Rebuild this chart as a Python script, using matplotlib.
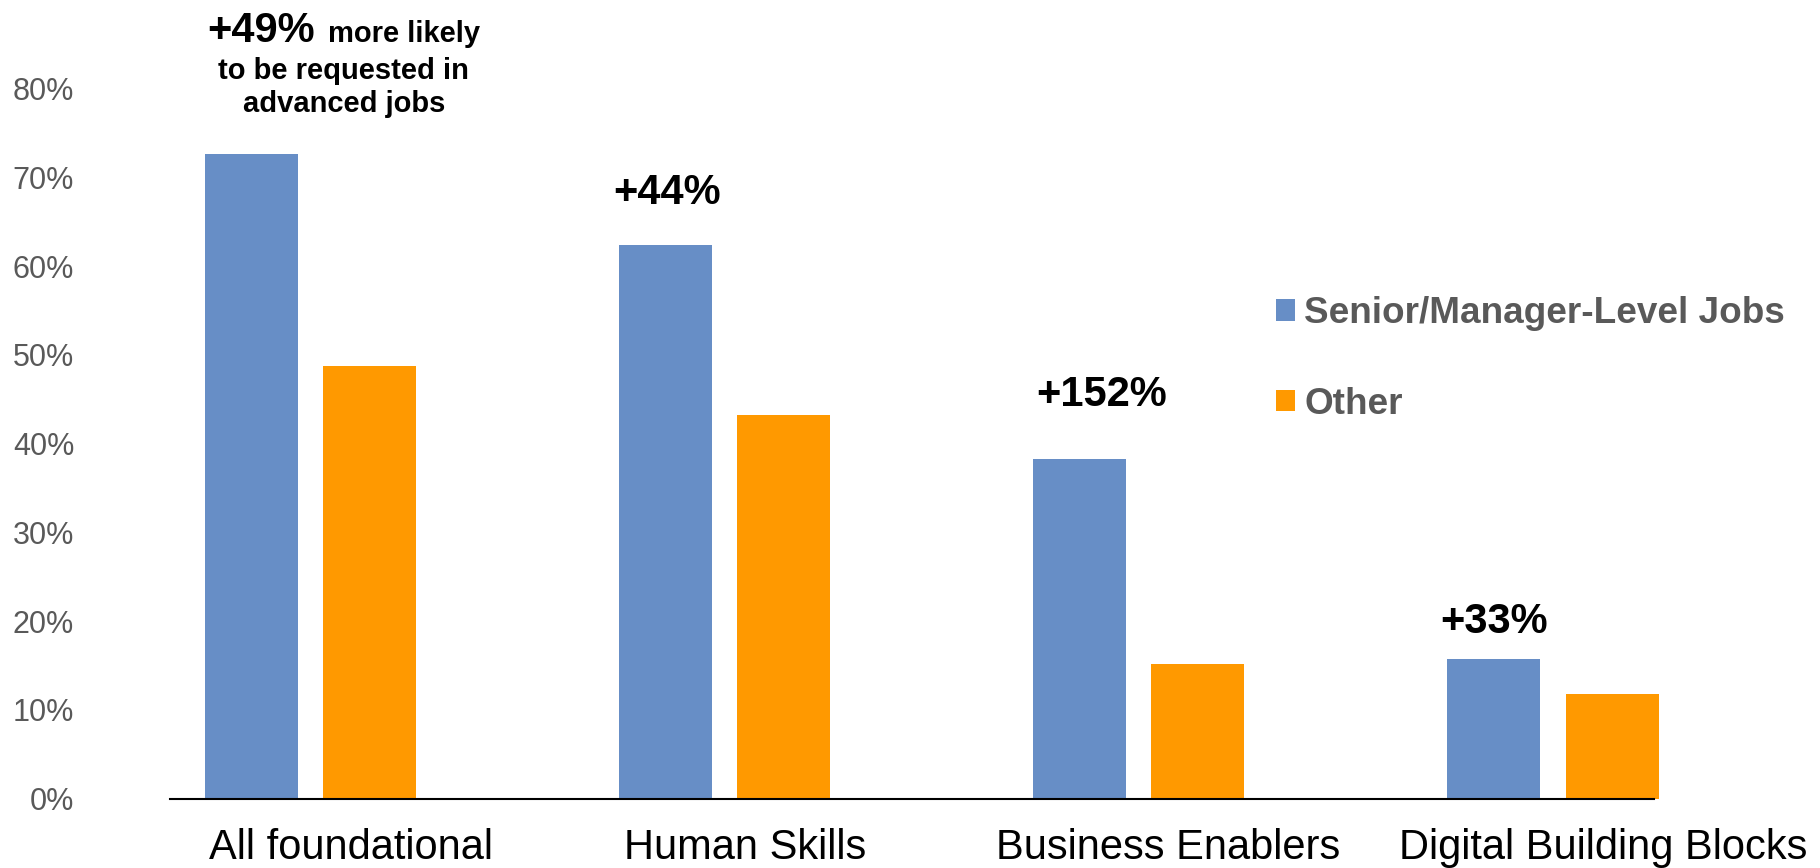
import numpy as np
import matplotlib
matplotlib.use("Agg")
import matplotlib.pyplot as plt
from matplotlib.patches import Patch

plt.rcParams['font.family'] = ['Liberation Sans', 'DejaVu Sans']

categories = ['All foundational', 'Human Skills', 'Business Enablers', 'Digital Building Blocks']
senior = [72.7, 62.4, 38.3, 15.7]
other = [48.8, 43.2, 15.2, 11.8]
series_names = ['Senior/Manager-Level Jobs', 'Other']
yticks = [0, 10, 20, 30, 40, 50, 60, 70, 80]

blue = '#678EC6'
orange = '#FF9900'
grey = '#595959'

# label placement tweaks (data x shift for category names / lift labels, points above bar)
cat_shift = [0.097, 0.048, 0.070, 0.122]
lift_shift = [0, 0.003, 0.053, 0.0]
lift_gap = [0, 29.5, 38, 19]

width = 0.2246
offset = 0.1425
x = np.arange(len(categories))

fig = plt.figure(figsize=(18.2, 8.68), dpi=100)
ax = fig.add_axes([170 / 1820, 69.5 / 868, (1654 - 170) / 1820, 9 * 88.7 / 868])

ax.bar(x - offset, senior, width, color=blue, clip_on=False)
ax.bar(x + offset, other, width, color=orange, clip_on=False)

ax.set_xlim((170 - 310.7) / 414.1, (1654 - 310.7) / 414.1)
ax.set_ylim(0, 90)

ax.set_yticks(yticks)
ax.set_yticklabels([f'{t}%' for t in yticks])
ax.tick_params(axis='y', length=0, pad=69, labelsize=22, labelcolor=grey)
ax.set_xticks([])

for s in ['top', 'right', 'left']:
    ax.spines[s].set_visible(False)
ax.spines['bottom'].set_linewidth(1.5)
ax.spines['bottom'].set_color('black')

for i, name in enumerate(categories):
    ax.annotate(name, xy=(x[i] + cat_shift[i], 0), xytext=(0, -43.5),
                textcoords='offset points', ha='center', va='baseline',
                fontsize=30, color='black', annotation_clip=False)

# how much more often the skill shows up in senior jobs
lifts = [f'+{round((s / o - 1) * 100)}%' for s, o in zip(senior, other)]

for i in range(1, len(categories)):
    ax.annotate(lifts[i], xy=(x[i] - offset + lift_shift[i], senior[i]),
                xytext=(0, lift_gap[i]), textcoords='offset points',
                ha='center', va='baseline',
                fontsize=30, fontweight='bold', color='black')

ax.text(0.0104, 85.3, lifts[0], ha='right', va='baseline',
        fontsize=30, fontweight='bold', color='black', clip_on=False)
ax.text(0.042, 85.3, 'more likely', ha='left', va='baseline',
        fontsize=21, fontweight='bold', color='black', clip_on=False)
ax.text(0.08, 81.1, 'to be requested in', ha='center', va='baseline',
        fontsize=21, fontweight='bold', color='black', clip_on=False)
ax.text(0.08, 77.4, 'advanced jobs', ha='center', va='baseline',
        fontsize=21, fontweight='bold', color='black', clip_on=False)

handles = [Patch(facecolor=blue), Patch(facecolor=orange)]
ax.legend(handles, series_names, loc='center left',
          bbox_to_anchor=(1276 / 1820, 1 - 359 / 868), bbox_transform=fig.transFigure,
          frameon=False, prop={'size': 26.6, 'weight': 'bold'}, labelcolor=grey,
          handlelength=0.52, handleheight=0.52, handletextpad=0.25,
          labelspacing=1.5, borderpad=0, borderaxespad=0)

fig.savefig('out.png', dpi=100)
